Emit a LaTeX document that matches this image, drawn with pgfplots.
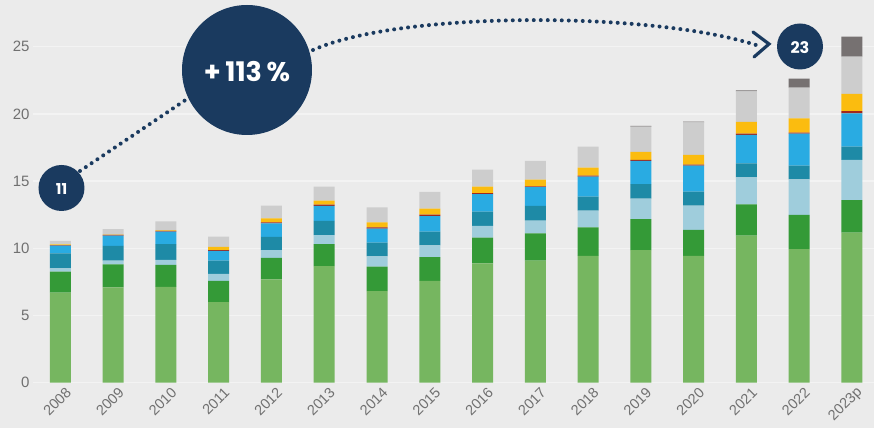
\documentclass[border=0pt]{standalone}
\usepackage{fontspec}
\setmainfont{Liberation Sans}
\newfontfamily\pop{Poppins}
\usepackage{pgfplots}
\usepackage{pgfplotstable}
\pgfplotsset{compat=1.18}

\definecolor{bgc}{HTML}{EBEBEB}
\definecolor{gridc}{HTML}{F3F3F3}
\definecolor{tickc}{HTML}{707070}
\definecolor{navy}{HTML}{1A3A5F}
\definecolor{cLG}{HTML}{76B660}
\definecolor{cDG}{HTML}{349A37}
\definecolor{cLB}{HTML}{9FCDDC}
\definecolor{cTE}{HTML}{1E8AA6}
\definecolor{cBL}{HTML}{29ABE2}
\definecolor{cRD}{HTML}{A0281E}
\definecolor{cYE}{HTML}{FBBC0F}
\definecolor{cGR}{HTML}{CDCDCD}
\definecolor{cDK}{HTML}{767171}

% one row per year (0 = 2008 ... 15 = 2023p), stacked from the bottom
\pgfplotstableread{
x  lg     dg    lb    te    bl    rd    ye    gr    dk
0  6.70   1.56  0.25  1.12  0.56  0.05  0.05  0.26  0
1  7.10   1.71  0.27  1.09  0.77  0.06  0.02  0.41  0
2  7.12   1.64  0.37  1.17  0.94  0.05  0.04  0.67  0
3  6.00   1.57  0.52  0.99  0.72  0.06  0.24  0.77  0
4  7.69   1.59  0.59  0.97  1.02  0.07  0.30  0.94  0
5  8.68   1.62  0.67  1.06  1.12  0.10  0.29  1.04  0
6  6.82   1.81  0.77  1.02  1.04  0.09  0.38  1.12  0
7  7.57   1.78  0.87  1.02  1.16  0.10  0.45  1.25  0
8  8.88   1.91  0.87  1.06  1.30  0.08  0.48  1.27  0
9  9.08   2.03  0.94  1.10  1.39  0.06  0.50  1.40  0
10 9.43   2.13  1.24  1.04  1.49  0.07  0.60  1.56  0
11 9.87   2.29  1.53  1.09  1.72  0.07  0.60  1.88  0.05
12 9.43   1.93  1.81  1.04  1.94  0.08  0.71  2.43  0.05
13 10.94  2.33  2.01  1.04  2.11  0.09  0.88  2.28  0.07
14 9.93   2.55  2.65  1.02  2.38  0.07  1.07  2.28  0.67
15 11.16  2.43  2.98  0.99  2.48  0.16  1.28  2.78  1.48
}\data

\begin{document}
\begin{tikzpicture}
\path[use as bounding box] (-33bp,-45.3bp) rectangle (841bp,382.7bp);
\fill[bgc] (-33bp,-45.3bp) rectangle (841bp,382.7bp);
\begin{axis}[
    at={(0,0)}, anchor=south west,
    scale only axis, width=841bp, height=382.7bp,
    xmin=-0.52, xmax=15.42, ymin=0, ymax=28.47,
    ybar stacked, bar width=21bp,
    axis line style={draw=none},
    major tick length=0pt,
    ymajorgrids, grid style={draw=gridc, line width=1.3bp},
    ytick={0,5,...,25},
    xtick={0,...,15},
    xticklabels={2008,2009,2010,2011,2012,2013,2014,2015,2016,2017,2018,2019,2020,2021,2022,2023p},
    /pgf/number format/assume math mode=true,
    tick label style={color=tickc, font=\fontsize{15bp}{18bp}\selectfont},
    xticklabel style={rotate=45, anchor=east, font=\fontsize{14.5bp}{17bp}\selectfont,
                      xshift=4bp, yshift=-11bp},
]
\addplot[fill=cLG, draw=none] table[x=x, y=lg] {\data};
\addplot[fill=cDG, draw=none] table[x=x, y=dg] {\data};
\addplot[fill=cLB, draw=none] table[x=x, y=lb] {\data};
\addplot[fill=cTE, draw=none] table[x=x, y=te] {\data};
\addplot[fill=cBL, draw=none] table[x=x, y=bl] {\data};
\addplot[fill=cRD, draw=none] table[x=x, y=rd] {\data};
\addplot[fill=cYE, draw=none] table[x=x, y=ye] {\data};
\addplot[fill=cGR, draw=none] table[x=x, y=gr] {\data};
\addplot[fill=cDK, draw=none] table[x=x, y=dk] {\data};
\end{axis}

% annotations, in reference pixel coordinates (y downwards)
\begin{scope}[shift={(-33bp,382.7bp)}, x=1bp, y=-1bp]
  \draw[navy, line width=4bp, line cap=round, dash pattern=on 0bp off 7bp]
    (80,171) -- (190,97);
  \draw[navy, line width=4bp, line cap=round, dash pattern=on 0bp off 7bp]
    (313,50) .. controls (400,11) and (650,11) .. (756,45);
  \draw[navy, line width=3.2bp, line cap=round, line join=miter]
    (753,32) -- (769,44) -- (754,57);
  \fill[navy] (61.5,188) circle (23);
  \fill[navy] (247,70) circle (65);
  \fill[navy] (800,46.5) circle (23);
  \node[white, font=\pop\bfseries\fontsize{15bp}{18bp}\selectfont] at (61.5,189) {11};
  \node[white, font=\pop\bfseries\fontsize{27bp}{31bp}\selectfont] at (247,72) {+\,113\,\%};
  \node[white, font=\pop\bfseries\fontsize{16bp}{19bp}\selectfont] at (800,47.5) {23};
\end{scope}
\end{tikzpicture}
\end{document}
